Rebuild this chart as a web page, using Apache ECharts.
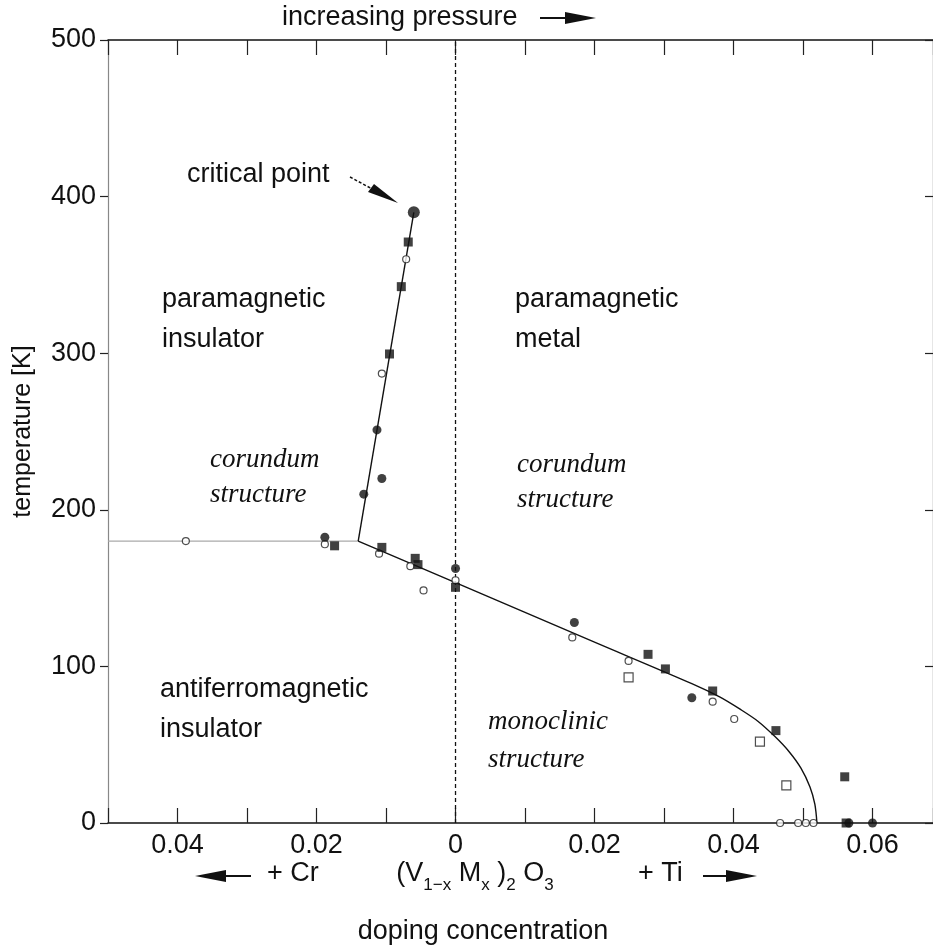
<!DOCTYPE html>
<html>
<head>
<meta charset="utf-8">
<script src="https://cdn.jsdelivr.net/npm/echarts@6/dist/echarts.min.js"></script>
<style>
html,body{margin:0;padding:0;background:#fff;}
#chart{width:933px;height:947px;}
</style>
</head>
<body>
<div id="chart"></div>
<script>
// ---- data (x = doping concentration, negative = Cr side; y = temperature K) ----
const xTickValues = [-0.04, -0.02, 0, 0.02, 0.04, 0.06];
const yTickValues = [0, 100, 200, 300, 400, 500];

const criticalPoint = [[-0.006, 390]];
const filledCircles = [
  [-0.0113, 251], [-0.0106, 220], [-0.0132, 210], [-0.0188, 182.5],
  [0, 162.5], [0.0171, 128], [0.034, 80], [0.0566, 0], [0.060, 0]
];
const filledSquares = [
  [-0.0068, 371], [-0.0078, 342.5], [-0.0095, 299.5], [-0.0106, 176],
  [-0.0174, 177], [-0.0058, 169], [-0.0054, 165], [0, 150.5],
  [0.0277, 107.7], [0.0302, 98.4], [0.037, 84.3], [0.0461, 59],
  [0.056, 29.5], [0.0562, 0]
];
const openCircles = [
  [-0.0071, 360], [-0.0106, 287], [-0.0388, 180], [-0.0188, 178],
  [-0.011, 172], [-0.0065, 164], [-0.0046, 148.5], [0, 155],
  [0.0168, 118.5], [0.0249, 103.5], [0.037, 77.5], [0.0401, 66.4],
  [0.0467, 0], [0.0493, 0], [0.0504, 0], [0.0515, 0]
];
const openSquares = [[0.0249, 93], [0.0438, 52], [0.0476, 24]];

// phase boundaries
const insulatorMetalLine = [[-0.014, 180], [-0.006, 390]];
const afiBoundary = [
  [-0.014, 180], [0, 153.5], [0.02, 115.5], [0.034, 89], [0.038, 80.5],
  [0.041, 72.5], [0.0435, 65], [0.046, 55], [0.048, 45.5], [0.0497, 35],
  [0.051, 23], [0.0517, 12], [0.052, 0]
];
const crossoverLine = [[-0.05, 180], [-0.014, 180]];
const zeroLine = [[0, 0], [0, 500]];

// ---- chart ----
const chart = echarts.init(document.getElementById('chart'), null, {renderer: 'canvas'});
const FONT = '"Liberation Sans", Arial, Helvetica, sans-serif';
const SERIF = '"Liberation Serif", "Times New Roman", serif';
const XMIN = -0.05, XMAX = 0.0687;
const FS = 27;

function xLabel(v) {
  const k = Math.round(v * 100);
  if (!xTickValues.some(t => Math.round(t * 100) === k)) return '';
  if (k === 0) return '0';
  return (Math.abs(k) / 100).toFixed(2);
}

const txt = (x, y, s, opt) => Object.assign({
  type: 'text', x: x, y: y, silent: true,
  style: Object.assign({text: s, fill: '#111', font: FS + 'px ' + FONT, textVerticalAlign: 'middle'}, opt || {})
});
const italic = (x, y, s) => txt(x, y, s, {font: 'italic ' + FS + 'px ' + SERIF});

const option = {
  backgroundColor: '#fff',
  animation: false,
  grid: {left: 108, top: 40, right: 0, bottom: 124, containLabel: false, outerBoundsMode: 'none'},
  xAxis: [{
    type: 'value', position: 'bottom', min: XMIN, max: XMAX, interval: 0.01,
    axisLine: {show: true, onZero: false, lineStyle: {color: '#111', width: 1.5}},
    axisTick: {show: true, inside: true, length: 15, lineStyle: {color: '#222', width: 1.2}},
    axisLabel: {show: true, formatter: xLabel, color: '#111', fontSize: FS, fontFamily: FONT, margin: 9},
    splitLine: {show: false}
  }, {
    type: 'value', position: 'top', min: XMIN, max: XMAX, interval: 0.01,
    axisLine: {show: true, onZero: false, lineStyle: {color: '#111', width: 1.5}},
    axisTick: {show: true, inside: true, length: 15, lineStyle: {color: '#222', width: 1.2}},
    axisLabel: {show: false}, splitLine: {show: false}
  }],
  yAxis: [{
    type: 'value', position: 'left', min: 0, max: 500, interval: 100,
    axisLine: {show: true, onZero: false, lineStyle: {color: '#888', width: 1.2}},
    axisTick: {show: true, inside: false, length: 8, lineStyle: {color: '#222', width: 1.2}},
    axisLabel: {show: true, color: '#111', fontSize: FS, fontFamily: FONT, margin: 12,
      formatter: v => yTickValues.includes(v) ? String(v) : ''},
    splitLine: {show: false},
    name: 'temperature [K]', nameLocation: 'middle', nameRotate: 90, nameGap: 72,
    nameTextStyle: {color: '#111', fontSize: 25, fontFamily: FONT}
  }, {
    type: 'value', position: 'right', min: 0, max: 500, interval: 100,
    axisLine: {show: true, onZero: false, lineStyle: {color: '#111', width: 1.2}},
    axisTick: {show: true, inside: true, length: 8, lineStyle: {color: '#222', width: 1.2}},
    axisLabel: {show: false}, splitLine: {show: false}
  }],
  series: [
    {type: 'line', data: crossoverLine, symbol: 'none', lineStyle: {color: '#aaa', width: 1.2}, z: 1},
    {type: 'line', data: zeroLine, symbol: 'none', lineStyle: {color: '#111', width: 1.3, type: [4, 3]}, z: 1},
    {type: 'line', data: insulatorMetalLine, symbol: 'none', lineStyle: {color: '#111', width: 1.4}, z: 2},
    {type: 'line', data: afiBoundary, symbol: 'none', smooth: 0.3, lineStyle: {color: '#111', width: 1.4}, z: 2},
    {type: 'scatter', data: openCircles, symbol: 'circle', symbolSize: 7,
      itemStyle: {color: '#fff', borderColor: '#222', borderWidth: 1.2}, z: 3},
    {type: 'scatter', data: openSquares, symbol: 'rect', symbolSize: 9,
      itemStyle: {color: '#fff', borderColor: '#222', borderWidth: 1.2}, z: 3},
    {type: 'scatter', data: filledSquares, symbol: 'rect', symbolSize: 9,
      itemStyle: {color: '#111'}, z: 4},
    {type: 'scatter', data: filledCircles, symbol: 'circle', symbolSize: 9,
      itemStyle: {color: '#111'}, z: 4},
    {type: 'scatter', data: criticalPoint, symbol: 'circle', symbolSize: 12,
      itemStyle: {color: '#111'}, z: 4}
  ],
  graphic: [
    txt(282, 18, 'increasing pressure'),
    {type: 'line', shape: {x1: 540, y1: 18, x2: 570, y2: 18}, style: {stroke: '#111', lineWidth: 2}},
    {type: 'polygon', shape: {points: [[565, 12], [596, 18], [565, 24]]}, style: {fill: '#111'}},

    txt(187, 175, 'critical point'),
    {type: 'line', shape: {x1: 350, y1: 177, x2: 374, y2: 190}, style: {stroke: '#111', lineWidth: 1.5, lineDash: [3, 2]}},
    {type: 'polygon', shape: {points: [[368, 192], [374, 184], [398, 203]]}, style: {fill: '#111'}},

    txt(162, 300, 'paramagnetic'), txt(162, 340, 'insulator'),
    txt(515, 300, 'paramagnetic'), txt(515, 340, 'metal'),
    italic(210, 460, 'corundum'), italic(210, 495, 'structure'),
    italic(517, 465, 'corundum'), italic(517, 500, 'structure'),
    txt(160, 690, 'antiferromagnetic'), txt(160, 730, 'insulator'),
    italic(488, 722, 'monoclinic'), italic(488, 760, 'structure'),

    {type: 'line', shape: {x1: 222, y1: 876, x2: 251, y2: 876}, style: {stroke: '#111', lineWidth: 2}},
    {type: 'polygon', shape: {points: [[226, 870], [195, 876], [226, 882]]}, style: {fill: '#111'}},
    txt(267, 874, '+ Cr'),
    {type: 'text', x: 475, y: 874, silent: true, style: {
      text: '(V{s|1−x} M{s|x} ){s|2} O{s|3}', fill: '#111', font: FS + 'px ' + FONT,
      textAlign: 'center', textVerticalAlign: 'middle',
      rich: {s: {fontSize: 17, fontFamily: FONT, padding: [22, 0, 0, 0], fill: '#111'}}
    }},
    txt(638, 874, '+ Ti'),
    {type: 'line', shape: {x1: 703, y1: 876, x2: 730, y2: 876}, style: {stroke: '#111', lineWidth: 2}},
    {type: 'polygon', shape: {points: [[726, 870], [757, 876], [726, 882]]}, style: {fill: '#111'}},

    txt(483, 932, 'doping concentration', {textAlign: 'center'})
  ]
};
chart.setOption(option);
</script>
</body>
</html>
